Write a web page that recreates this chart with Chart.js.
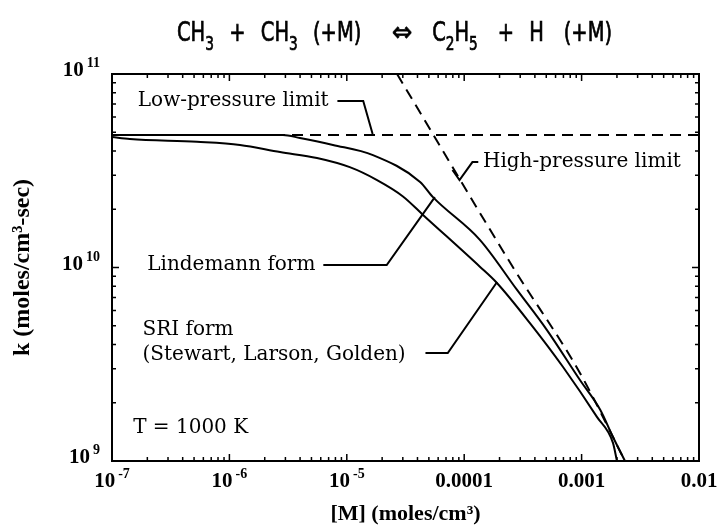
<!DOCTYPE html>
<html>
<head>
<meta charset="utf-8">
<script src="https://cdn.jsdelivr.net/npm/chart.js@4/dist/chart.umd.min.js"></script>
<style>
  body { margin: 0; background: #fff; }
</style>
</head>
<body>
<canvas id="myChart" width="722" height="525"></canvas>
<script>
// [M] in moles/cm3, k in moles/cm3-sec
const lindemannM = [1e-7, 5.6e-7, 2.86e-6, 3.99e-6, 7.62e-6, 1.67e-5, 4.21e-5, 5.42e-5, 1.36e-4, 2.82e-4, 5.07e-4, 9.68e-4, 1.44e-3, 1.85e-3, 2.34e-3];
const lindemannK = [4.84e10, 4.84e10, 4.84e10, 4.67e10, 4.30e10, 3.81e10, 2.77e10, 2.31e10, 1.39e10, 7.66e9, 4.75e9, 2.62e9, 1.84e9, 1.33e9, 1.0e9];

const sriM = [1e-7, 1.42e-7, 5.30e-7, 1.23e-6, 2.70e-6, 5.57e-6, 1.06e-5, 1.81e-5, 3.01e-5, 4.46e-5, 1.36e-4, 1.90e-4, 3.63e-4, 6.95e-4, 1.35e-3, 1.85e-3, 2.0e-3];
const sriK = [4.72e10, 4.61e10, 4.46e10, 4.30e10, 3.95e10, 3.68e10, 3.30e10, 2.83e10, 2.33e10, 1.87e10, 1.01e10, 8.32e9, 5.16e9, 3.06e9, 1.69e9, 1.24e9, 1.0e9];

const lowM = [1e-7, 1e-2];
const lowK = [4.84e10, 4.84e10];

const highM = [2.68e-5, 2.61e-4, 9.68e-4, 2.34e-3];
const highK = [1.0e11, 1.0e10, 2.85e9, 1.0e9];

// tick labels: [base, exponent]
const xTickValues = [1e-7, 1e-6, 1e-5, 1e-4, 1e-3, 1e-2];
const xTickLabels = [['10', '-7'], ['10', '-6'], ['10', '-5'], ['0.0001', ''], ['0.001', ''], ['0.01', '']];
const yTickValues = [1e9, 1e10, 1e11];
const yTickLabels = [['10', '9'], ['10', '10'], ['10', '11']];

// title pieces: text and whether it is a subscript
const titleText = ['CH', '3', '+', 'CH', '3', '(+M)', '⇔', 'C', '2', 'H', '5', '+', 'H', '(+M)'];
const titleSub = [false, true, false, false, true, false, false, false, true, false, true, false, false, false];

// labels placed at [log10 M, log10 k]
const notes = [
  { text: 'Low-pressure limit', at: [-6.78, 10.86] },
  { text: 'High-pressure limit', at: [-3.84, 10.545] },
  { text: 'Lindemann form', at: [-6.70, 10.013] },
  { text: 'SRI form', at: [-6.74, 9.677] },
  { text: '(Stewart, Larson, Golden)', at: [-6.74, 9.548] },
  { text: 'T = 1000 K', at: [-6.82, 9.171] },
];
const pointers = [
  [[-5.08, 10.86], [-4.86, 10.86], [-4.78, 10.69]],
  [[-3.88, 10.545], [-3.93, 10.545], [-4.04, 10.452], [-4.10, 10.504]],
  [[-5.20, 10.013], [-4.66, 10.013], [-4.25, 10.364]],
  [[-4.33, 9.558], [-4.14, 9.558], [-3.72, 9.925]],
];

const toPoints = (xs, ys) => xs.map((x, i) => ({ x: x, y: ys[i] }));

const serif = '"DejaVu Serif", serif';
const boldSerif = '"Liberation Serif", "Times New Roman", serif';
const sans = '"DejaVu Sans Condensed", "DejaVu Sans", sans-serif';

// relative gap after each title piece; the title is stretched to span titleSpan
const titleGap = [0, 1, 1, 0, 1, 2, 1.3, 0, 0, 0, 1.3, 1, 1.3, 0];
const titleSpan = [177, 612];

// draws "base" with a raised exponent
const drawPower = (ctx, base, exp, x, y, align) => {
    ctx.font = 'bold 21px ' + boldSerif;
    const wb = ctx.measureText(base).width;
    ctx.font = 'bold 14px ' + boldSerif;
    const we = exp ? ctx.measureText(exp).width + 3 : 0;
    const w = wb + we;
    let left = x - w / 2;
    if (align === 'right') left = x - w;
    ctx.textAlign = 'left';
    ctx.textBaseline = 'alphabetic';
    ctx.font = 'bold 21px ' + boldSerif;
    ctx.fillText(base, left, y);
    if (exp) {
        ctx.font = 'bold 14px ' + boldSerif;
        ctx.fillText(exp, left + wb + 3, y - 9);
    }
};

const overlay = {
    id: 'overlay',
    afterDraw(chart) {
        const ctx = chart.ctx;
        const a = chart.chartArea;
        const xs = chart.scales.x;
        const ys = chart.scales.y;
        const P = (p) => [xs.getPixelForValue(Math.pow(10, p[0])), ys.getPixelForValue(Math.pow(10, p[1]))];
        ctx.save();
        ctx.strokeStyle = '#000';
        ctx.fillStyle = '#000';

        // frame
        ctx.lineWidth = 2;
        ctx.strokeRect(a.left, a.top, a.right - a.left, a.bottom - a.top);

        // inward tick marks on all four sides
        ctx.lineWidth = 1.5;
        ctx.beginPath();
        for (let e = -7; e < -2; e++) {
            for (let m = 1; m < 10; m++) {
                const px = xs.getPixelForValue(m * Math.pow(10, e));
                const len = m === 1 ? 7 : 4;
                ctx.moveTo(px, a.bottom); ctx.lineTo(px, a.bottom - len);
                ctx.moveTo(px, a.top); ctx.lineTo(px, a.top + len);
            }
        }
        for (let e = 9; e < 11; e++) {
            for (let m = 1; m < 10; m++) {
                const py = ys.getPixelForValue(m * Math.pow(10, e));
                const len = m === 1 ? 7 : 4;
                ctx.moveTo(a.left, py); ctx.lineTo(a.left + len, py);
                ctx.moveTo(a.right, py); ctx.lineTo(a.right - len, py);
            }
        }
        ctx.stroke();

        // tick labels
        xTickValues.forEach((v, i) => {
            drawPower(ctx, xTickLabels[i][0], xTickLabels[i][1], xs.getPixelForValue(v), a.bottom + 26, 'center');
        });
        yTickValues.forEach((v, i) => {
            drawPower(ctx, yTickLabels[i][0], yTickLabels[i][1], a.left - 12, ys.getPixelForValue(v) + 2, 'right');
        });

        // pointer lines
        ctx.lineWidth = 2;
        pointers.forEach((pts) => {
            ctx.beginPath();
            pts.forEach((p, i) => {
                const [px, py] = P(p);
                if (i === 0) ctx.moveTo(px, py); else ctx.lineTo(px, py);
            });
            ctx.stroke();
        });

        // labels
        ctx.font = '20px ' + serif;
        ctx.textAlign = 'left';
        ctx.textBaseline = 'middle';
        notes.forEach((n) => {
            const [px, py] = P(n.at);
            ctx.fillText(n.text, px, py);
        });

        // title with subscripts, condensed glyphs, gaps stretched to fit the span
        const base = 41;
        const fontOf = (i) => (titleSub[i] ? '19px ' : '27px ') + sans;
        const sxOf = (i) => (titleText[i] === '⇔' ? 1 : 0.8);
        const widths = titleText.map((t, i) => {
            ctx.font = fontOf(i);
            return ctx.measureText(t).width * sxOf(i);
        });
        const glyphs = widths.reduce((s, w) => s + w, 0);
        const gapSum = titleGap.reduce((s, g) => s + g, 0);
        const unit = (titleSpan[1] - titleSpan[0] - glyphs) / gapSum;
        let x = titleSpan[0];
        ctx.textBaseline = 'alphabetic';
        ctx.lineWidth = 0.7;
        titleText.forEach((t, i) => {
            ctx.save();
            ctx.translate(x, titleSub[i] ? base + 9 : base);
            ctx.scale(sxOf(i), 1);
            ctx.font = fontOf(i);
            ctx.fillText(t, 0, 0);
            ctx.strokeText(t, 0, 0);
            ctx.restore();
            x += widths[i] + titleGap[i] * unit;
        });
        ctx.restore();
    },
};

const ctx = document.getElementById('myChart');

const lineStyle = {
    borderColor: '#000',
    backgroundColor: '#000',
    borderWidth: 2,
    pointRadius: 0,
    cubicInterpolationMode: 'monotone',
    fill: false,
};

new Chart(ctx, {
    type: 'line',
    data: {
        datasets: [
            { label: 'Lindemann form', data: toPoints(lindemannM, lindemannK), ...lineStyle },
            { label: 'SRI form', data: toPoints(sriM, sriK), ...lineStyle },
            { label: 'Low-pressure limit', data: toPoints(lowM, lowK), ...lineStyle, borderDash: [11, 7] },
            { label: 'High-pressure limit', data: toPoints(highM, highK), ...lineStyle, borderDash: [11, 7] },
        ],
    },
    options: {
        responsive: false,
        animation: false,
        layout: {
            padding: { top: 74, right: 23, left: 0, bottom: 0 },
        },
        scales: {
            x: {
                type: 'logarithmic',
                min: 1e-7,
                max: 1e-2,
                grid: { display: false },
                border: { display: false },
                afterBuildTicks: (scale) => {
                    scale.ticks = xTickValues.map((v) => ({ value: v }));
                },
                afterFit: (scale) => {
                    scale.height = 64;
                },
                ticks: { display: false },
                title: {
                    display: true,
                    text: '[M] (moles/cm³)',
                    color: '#000',
                    padding: { top: 0, bottom: 0 },
                    font: { family: boldSerif, weight: 'bold', size: 22, lineHeight: 1 },
                },
            },
            y: {
                type: 'logarithmic',
                min: 1e9,
                max: 1e11,
                grid: { display: false },
                border: { display: false },
                afterBuildTicks: (scale) => {
                    scale.ticks = yTickValues.map((v) => ({ value: v }));
                },
                afterFit: (scale) => {
                    scale.width = 112;
                },
                ticks: { display: false },
                title: {
                    display: true,
                    text: 'k (moles/cm³-sec)',
                    color: '#000',
                    padding: { top: 11, bottom: 0 },
                    font: { family: boldSerif, weight: 'bold', size: 24, lineHeight: 1 },
                },
            },
        },
        plugins: {
            legend: { display: false },
            tooltip: { enabled: false },
            title: { display: false },
        },
    },
    plugins: [overlay],
});
</script>
</body>
</html>
